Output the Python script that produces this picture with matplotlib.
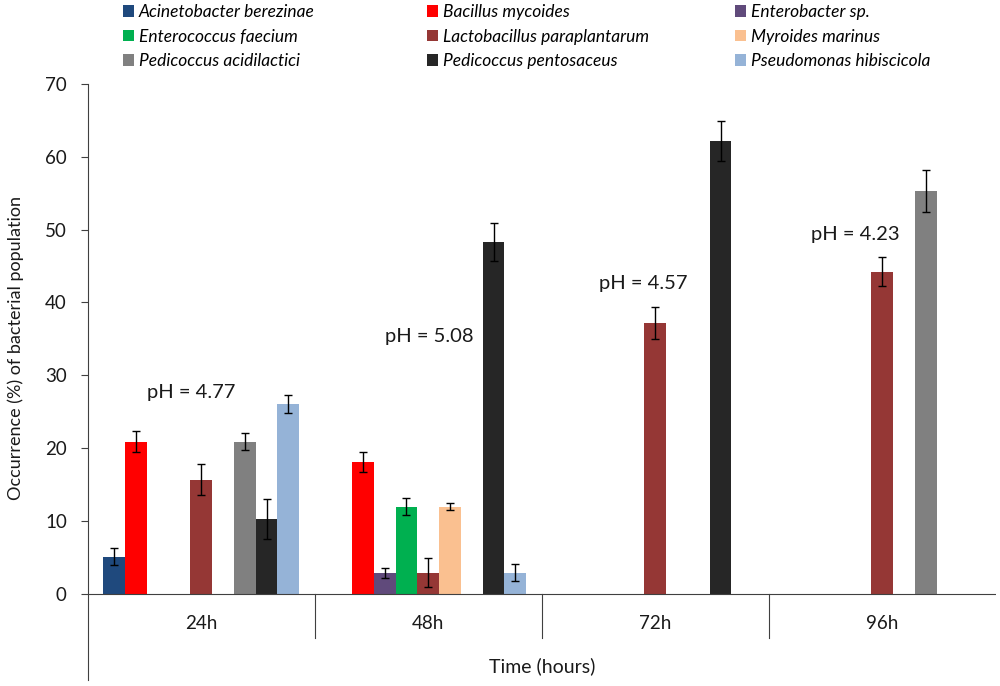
import numpy as np
import matplotlib
matplotlib.use("Agg")
import matplotlib.pyplot as plt
from matplotlib.patches import Patch

plt.rcParams['font.family'] = ['Lato', 'DejaVu Sans']

# ---------------- data ----------------
groups = ["24h", "48h", "72h", "96h"]
species = ["Acinetobacter berezinae", "Bacillus mycoides", "Enterobacter sp.",
           "Enterococcus faecium", "Lactobacillus paraplantarum", "Myroides marinus",
           "Pedicoccus acidilactici", "Pedicoccus pentosaceus", "Pseudomonas hibiscicola"]
colors = ["#1F497D", "#FF0000", "#604A7B", "#00B050", "#953735", "#FAC090",
          "#808080", "#262626", "#95B3D7"]

acinetobacter = [5.1, None, None, None]
bacillus = [20.9, 18.1, None, None]
enterobacter = [None, 2.9, None, None]
enterococcus = [None, 12.0, None, None]
lactobacillus = [15.7, 2.9, 37.2, 44.2]
myroides = [None, 12.0, None, None]
ped_acidilactici = [20.9, None, None, 55.3]
ped_pentosaceus = [10.3, 48.3, 62.1, None]
pseudomonas = [26.1, 2.9, None, None]

acinetobacter_err = [1.15, None, None, None]
bacillus_err = [1.4, 1.4, None, None]
enterobacter_err = [None, 0.7, None, None]
enterococcus_err = [None, 1.15, None, None]
lactobacillus_err = [2.1, 2.0, 2.2, 2.0]
myroides_err = [None, 0.5, None, None]
ped_acidilactici_err = [1.15, None, None, 2.9]
ped_pentosaceus_err = [2.8, 2.6, 2.75, None]
pseudomonas_err = [1.2, 1.15, None, None]

values = [acinetobacter, bacillus, enterobacter, enterococcus, lactobacillus,
          myroides, ped_acidilactici, ped_pentosaceus, pseudomonas]
errors = [acinetobacter_err, bacillus_err, enterobacter_err, enterococcus_err,
          lactobacillus_err, myroides_err, ped_acidilactici_err,
          ped_pentosaceus_err, pseudomonas_err]

ph_labels = ["pH = 4.77", "pH = 5.08", "pH = 4.57", "pH = 4.23"]
ph_x = [-0.045, 1.004, 1.947, 2.881]
ph_y = [27.7, 35.3, 42.55, 49.27]

# ---------------- figure ----------------
fig = plt.figure(figsize=(10, 6.86), dpi=100)
ax = fig.add_axes([0.0877, 0.00875, 0.908, 0.869])

axis_col = "#404040"
txt_col = "#1a1a1a"
w = 0.096
n = len(species)
for i, (vals, errs, c) in enumerate(zip(values, errors, colors)):
    xs = [g + (i - (n - 1) / 2) * w for g, v in enumerate(vals) if v is not None]
    ys = [v for v in vals if v is not None]
    es = [e for e in errs if e is not None]
    ax.bar(xs, ys, width=w, color=c, linewidth=0, zorder=2)
    ax.errorbar(xs, ys, yerr=es, fmt="none", ecolor="black", elinewidth=1.0,
                capsize=3.2, capthick=1.0, zorder=3)

ax.set_xlim(-0.5, 3.5)
ax.set_ylim(-11.8, 70)
ax.set_yticks(np.arange(0, 71, 10))
ax.tick_params(axis="y", direction="out", length=5, width=0.8, pad=10,
               labelsize=13.5, colors=axis_col, labelcolor=txt_col)
ax.set_xticks([])
for s in ["top", "right", "bottom"]:
    ax.spines[s].set_visible(False)
ax.spines["left"].set_color(axis_col)
ax.spines["left"].set_linewidth(0.8)

ax.axhline(0, color=axis_col, linewidth=0.8, zorder=4)
for b in [0.5, 1.5, 2.5]:
    ax.plot([b, b], [0, -6.0], color=axis_col, linewidth=0.8, clip_on=False)
for g, lab in enumerate(groups):
    ax.text(g, -4.1, lab, ha="center", va="center", fontsize=13.5, color=txt_col)
ax.text(1.5, -9.9, "Time (hours)", ha="center", va="center", fontsize=14,
        color=txt_col)

fig.text(0.016, (686 - 347.5) / 686, "Occurrence (%) of bacterial population",
         rotation=90, ha="center", va="center", fontsize=13, color=txt_col)

for t, x, y in zip(ph_labels, ph_x, ph_y):
    ax.text(x, y, t, ha="center", va="center", fontsize=14.5, color=txt_col)

# legend: 3 columns, placed manually (row-major order)
col_x = [123 / 1000, 427 / 1000, 735 / 1000]
for col in range(3):
    idx = [col, col + 3, col + 6]
    handles = [Patch(facecolor=colors[k], edgecolor="none") for k in idx]
    labels = [species[k] for k in idx]
    fig.legend(handles, labels, loc="upper left",
               bbox_to_anchor=(col_x[col], 1 - 4 / 686), frameon=False,
               prop={"style": "italic", "size": 12.5}, handlelength=0.65,
               handleheight=0.65, handletextpad=0.25, labelspacing=0.5,
               borderpad=0, borderaxespad=0)

fig.savefig("out.png", dpi=100)
